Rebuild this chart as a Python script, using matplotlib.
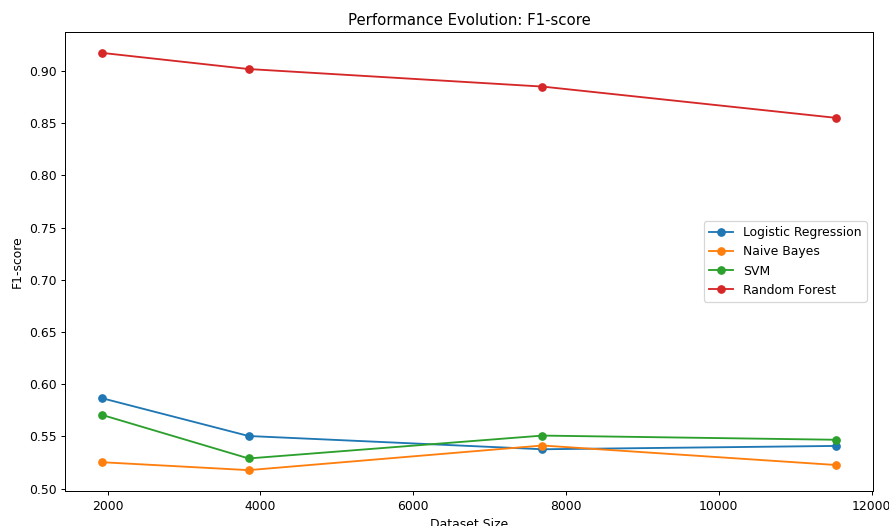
import matplotlib
matplotlib.use("Agg")
import matplotlib.pyplot as plt

sizes = [1923, 3846, 7692, 11538]
models = ["Logistic Regression", "Naive Bayes", "SVM", "Random Forest"]
lr_f1 = [0.5866, 0.5503, 0.5376, 0.5408]
nb_f1 = [0.5252, 0.5176, 0.5412, 0.5225]
svm_f1 = [0.5706, 0.5288, 0.5507, 0.5467]
rf_f1 = [0.9174, 0.9019, 0.8851, 0.8551]
series = [lr_f1, nb_f1, svm_f1, rf_f1]

DPI = 88.9
fig = plt.figure(figsize=(889 / DPI, 526 / DPI), dpi=DPI)
ax = fig.add_axes([65 / 889, 1 - 491 / 526, (873 - 65) / 889, (491 - 32) / 526])
for name, vals in zip(models, series):
    ax.plot(sizes, vals, marker="o", label=name)
ax.set_title("Performance Evolution: F1-score")
ax.set_xlabel("Dataset Size")
ax.set_ylabel("F1-score")
ax.legend(loc="center right")
fig.savefig("out.png", dpi=DPI)
